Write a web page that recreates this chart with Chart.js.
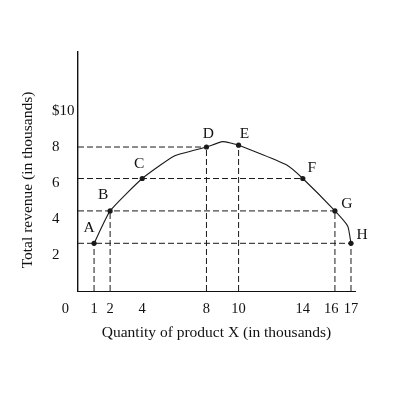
<!DOCTYPE html>
<html>
<head>
<meta charset="utf-8">
<script src="https://cdn.jsdelivr.net/npm/chart.js@4.4.1/dist/chart.umd.min.js"></script>
<style>
  html, body { margin: 0; padding: 0; background: #ffffff; }
  #wrap { width: 400px; height: 400px; }
</style>
</head>
<body>
<div id="wrap"><canvas id="c" width="400" height="400"></canvas></div>
<script>
// ---- data ----
const pointNames = ['A', 'B', 'C', 'D', 'E', 'F', 'G', 'H'];
const quantity = [1, 2, 4, 8, 10, 14, 16, 17];            // thousands of units
const revenue = [2.65, 4.45, 6.25, 8.0, 8.1, 6.25, 4.45, 2.65]; // $ thousands
// vertices of the total-revenue curve (labelled points plus bends between them)
const curveQuantity = [1, 2, 4, 6, 8, 9, 10, 13, 14, 16, 16.8, 17];
const curveRevenue = [2.65, 4.45, 6.25, 7.5, 8.0, 8.3, 8.1, 7.0, 6.25, 4.45, 3.6, 2.65];
// which points get a horizontal guide to the y axis / a vertical guide to the x axis
const horizontalGuides = ['D', 'F', 'G', 'H'];
const verticalGuides = ['A', 'B', 'D', 'E', 'G', 'H'];
const xTicks = [0, 1, 2, 4, 8, 10, 14, 16, 17];
const yTicks = [2, 4, 6, 8, 10];
const xTitle = 'Quantity of product X (in thousands)';
const yTitle = 'Total revenue (in thousands)';

// ---- style ----
const FONT = "'Liberation Serif', 'Times New Roman', serif";
const labelOffsets = [[-5, -15], [-7, -16], [-3, -15], [2, -13], [6, -11], [9, -11], [12, -7], [11, -8]];

const idx = n => pointNames.indexOf(n);
const guideSets = [];
horizontalGuides.forEach(n => {
  const i = idx(n);
  guideSets.push({ data: [{ x: 0, y: revenue[i] }, { x: quantity[i], y: revenue[i] }] });
});
verticalGuides.forEach(n => {
  const i = idx(n);
  guideSets.push({ data: [{ x: quantity[i], y: 0 }, { x: quantity[i], y: revenue[i] }] });
});

const datasets = [
  {
    label: 'points',
    data: quantity.map((q, i) => ({ x: q, y: revenue[i] })),
    showLine: false,
    pointRadius: 2.6,
    pointBackgroundColor: '#1a1a1a',
    pointBorderWidth: 0
  },
  {
    label: 'curve',
    data: curveQuantity.map((q, i) => ({ x: q, y: curveRevenue[i] })),
    showLine: true,
    borderColor: '#1a1a1a',
    borderWidth: 1.1,
    pointRadius: 0,
    tension: 0.15
  }
].concat(guideSets.map(g => ({
  label: 'guide',
  data: g.data,
  showLine: true,
  borderColor: '#1a1a1a',
  borderWidth: 1,
  borderDash: [6, 3],
  pointRadius: 0
})));

const labelPlugin = {
  id: 'pointLetters',
  afterDatasetsDraw(chart) {
    const ctx = chart.ctx;
    const meta = chart.getDatasetMeta(0);
    ctx.save();
    ctx.fillStyle = '#111';
    ctx.font = '15.5px ' + FONT;
    ctx.textAlign = 'center';
    ctx.textBaseline = 'middle';
    meta.data.forEach((el, i) => {
      const o = labelOffsets[i];
      ctx.fillText(pointNames[i], el.x + o[0], el.y + o[1]);
    });
    ctx.restore();
  }
};

const yTitlePlugin = {
  id: 'yTitle',
  afterDraw(chart) {
    const ctx = chart.ctx;
    ctx.save();
    ctx.fillStyle = '#111';
    ctx.font = '15.5px ' + FONT;
    ctx.textAlign = 'center';
    ctx.textBaseline = 'middle';
    ctx.translate(28, 180);
    ctx.rotate(-Math.PI / 2);
    ctx.fillText(yTitle, 0, 0);
    ctx.restore();
  }
};

new Chart(document.getElementById('c'), {
  type: 'scatter',
  data: { datasets },
  plugins: [labelPlugin, yTitlePlugin],
  options: {
    responsive: false,
    animation: false,
    events: [],
    layout: { padding: { left: 52, top: 52, right: 45, bottom: 0 } },
    plugins: { legend: { display: false }, tooltip: { enabled: false } },
    scales: {
      x: {
        type: 'linear',
        min: 0,
        max: 17.25,
        afterBuildTicks: s => { s.ticks = xTicks.map(v => ({ value: v })); },
        afterFit: s => { s.height = 109; },
        grid: { display: false, drawTicks: false },
        border: { display: true, color: '#111', width: 1 },
        ticks: {
          color: '#111',
          font: { family: FONT, size: 14.5 },
          padding: 9,
          maxRotation: 0,
          autoSkip: false,
          callback: v => (v === 0 ? '0       ' : v === 16 ? '16  ' : String(v))
        },
        title: {
          display: true,
          text: xTitle,
          color: '#111',
          font: { family: FONT, size: 15.5 },
          padding: { top: 0, bottom: 58 }
        }
      },
      y: {
        type: 'linear',
        min: 0,
        max: 13.28,
        afterBuildTicks: s => { s.ticks = yTicks.map(v => ({ value: v })); },
        afterFit: s => { s.width = 26; },
        grid: { display: false, drawTicks: false },
        border: { display: true, color: '#111', width: 1.4 },
        ticks: {
          color: '#111',
          font: { family: FONT, size: 15 },
          crossAlign: 'far',
          padding: 4,
          callback: v => (v === 10 ? '$10' : String(v))
        }
      }
    }
  }
});
</script>
</body>
</html>
